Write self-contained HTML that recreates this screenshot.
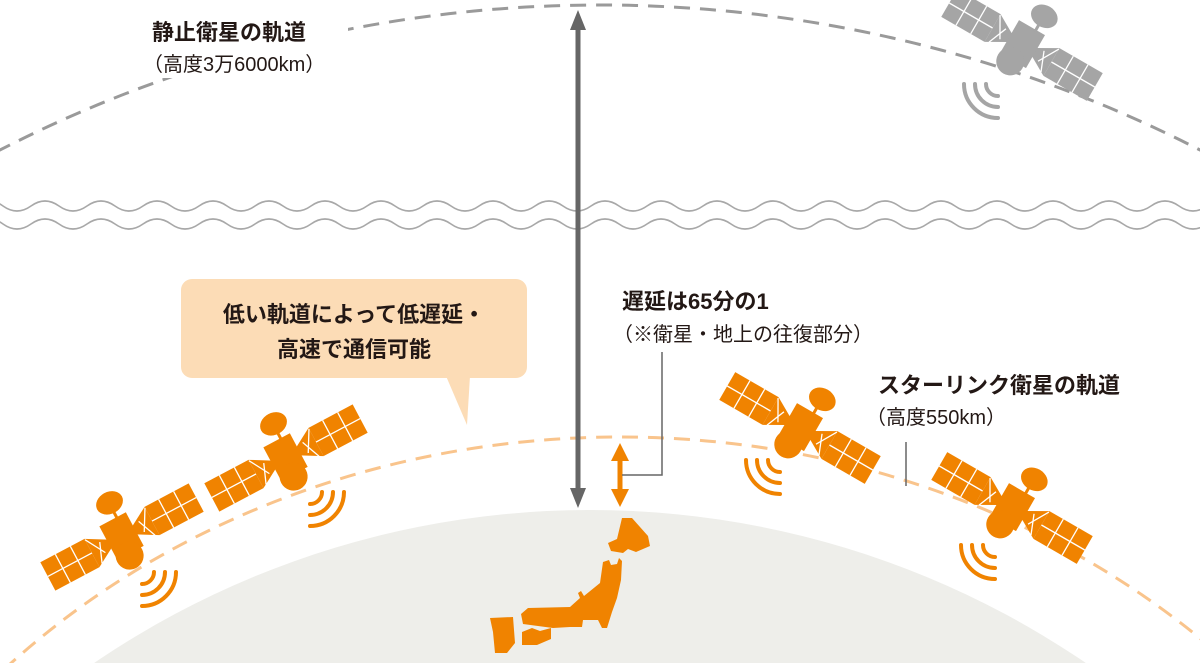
<!DOCTYPE html>
<html><head><meta charset="utf-8"><style>
html,body{margin:0;padding:0;background:#fff;overflow:hidden;}
svg{display:block;}
text{font-family:"Liberation Sans","Noto Sans CJK JP",sans-serif;fill:#231815;}
.b{font-weight:bold;font-size:22px;}
.r{font-size:20px;}
</style></head><body>
<svg width="1200" height="663" viewBox="0 0 1200 663" xmlns="http://www.w3.org/2000/svg">
<defs>
<g id="sat">
  <rect x="-84" y="-16" width="50" height="32"/>
  <rect x="34" y="-16" width="50" height="32"/>
  <path d="M-34 -16 L-13 -4 L-13 4 L-34 16 Z"/>
  <path d="M34 -16 L13 -4 L13 4 L34 16 Z"/>
  <g stroke="#fff" stroke-width="1.3">
    <line x1="-67" y1="-16" x2="-67" y2="16"/><line x1="-50" y1="-16" x2="-50" y2="16"/><line x1="-84" y1="0" x2="-34" y2="0"/>
    <line x1="50" y1="-16" x2="50" y2="16"/><line x1="67" y1="-16" x2="67" y2="16"/><line x1="34" y1="0" x2="84" y2="0"/>
    <line x1="-34" y1="-15" x2="-22" y2="6"/><line x1="-30" y1="14" x2="-22" y2="-6"/>
    <line x1="34" y1="-15" x2="22" y2="6"/><line x1="30" y1="14" x2="22" y2="-6"/>
  </g>
  <rect x="-15" y="-20" width="30" height="38"/>
  <rect x="3" y="-30" width="3" height="12"/>
  <ellipse cx="5" cy="-36" rx="14" ry="11"/>
  <circle cx="-2" cy="20" r="14"/>
</g>
<g id="wavesR" fill="none" stroke-width="4" stroke-linecap="round">
  <path d="M12 0 A12 12 0 0 1 0 12"/>
  <path d="M23 0 A23 23 0 0 1 0 23"/>
  <path d="M34 0 A34 34 0 0 1 0 34"/>
</g>
<g id="wavesL" fill="none" stroke-width="4" stroke-linecap="round">
  <path d="M-12 0 A12 12 0 0 0 0 12"/>
  <path d="M-23 0 A23 23 0 0 0 0 23"/>
  <path d="M-34 0 A34 34 0 0 0 0 34"/>
</g>
</defs>

<circle cx="590" cy="1390" r="880" fill="#eeeeea"/>

<circle cx="600" cy="1319" r="1314" fill="none" stroke="#9a9a9a" stroke-width="3" stroke-dasharray="16 10"/>
<ellipse cx="620" cy="1200" rx="857" ry="763" fill="none" stroke="#f9c48c" stroke-width="3" stroke-dasharray="16 10"/>

<g fill="none" stroke="#a8a8a8" stroke-width="1.6">
<path d="M-25 206 q14 -10 28 0 t28 0 t28 0 t28 0 t28 0 t28 0 t28 0 t28 0 t28 0 t28 0 t28 0 t28 0 t28 0 t28 0 t28 0 t28 0 t28 0 t28 0 t28 0 t28 0 t28 0 t28 0 t28 0 t28 0 t28 0 t28 0 t28 0 t28 0 t28 0 t28 0 t28 0 t28 0 t28 0 t28 0 t28 0 t28 0 t28 0 t28 0 t28 0 t28 0 t28 0 t28 0 t28 0 t28 0 t28 0"/>
<path d="M-25 224 q14 -10 28 0 t28 0 t28 0 t28 0 t28 0 t28 0 t28 0 t28 0 t28 0 t28 0 t28 0 t28 0 t28 0 t28 0 t28 0 t28 0 t28 0 t28 0 t28 0 t28 0 t28 0 t28 0 t28 0 t28 0 t28 0 t28 0 t28 0 t28 0 t28 0 t28 0 t28 0 t28 0 t28 0 t28 0 t28 0 t28 0 t28 0 t28 0 t28 0 t28 0 t28 0 t28 0 t28 0 t28 0 t28 0"/>
</g>

<rect x="148" y="18" width="200" height="60" fill="#fff"/>

<line x1="578" y1="28" x2="578" y2="490" stroke="#666" stroke-width="5"/>
<path d="M578 10 L570 30 L586 30 Z" fill="#666"/>
<path d="M578 508 L570 488 L586 488 Z" fill="#666"/>

<line x1="620" y1="458" x2="620" y2="492" stroke="#f08300" stroke-width="5"/>
<path d="M620 443 L611 461 L629 461 Z" fill="#f08300"/>
<path d="M620 507 L611 489 L629 489 Z" fill="#f08300"/>

<path d="M662 352 L662 475 L622 475" fill="none" stroke="#666" stroke-width="1.5"/>
<line x1="906" y1="442" x2="906" y2="486" stroke="#666" stroke-width="1.5"/>

<g fill="#f08300">
<path d="M622 518 L632 518 L648 536 L650 546 L636 552 L628 549 L623 553 L611 551 L608 543 L617 539 Z"/>
<path d="M603 562 L609 560 L611 565 L617 564 L619 558 L622 561 L621 580 L617 598 L612 612 L607 628 L602 628 L598 620 L583 620 L582 627 L570 627 L553 628 L523 624 L521 614 L528 608 L570 607 L580 598 L578 593 L581 591 L584 596 L600 583 Z"/>
<path d="M522 632 L532 628 L540 631 L551 628 L551 639 L537 645 L522 645 Z"/>
<path d="M490 618 L513 617 L515 643 L507 653 L495 653 L493 632 Z"/>
</g>

<g fill="#f08300">
  <use href="#sat" transform="translate(122,537) rotate(-28)"/>
  <use href="#sat" transform="translate(286,458) rotate(-28)"/>
  <use href="#sat" transform="translate(800,428) rotate(30)"/>
  <use href="#sat" transform="translate(1012,508) rotate(30)"/>
</g>
<g fill="#a5a5a5">
  <use href="#sat" transform="translate(1022,45) rotate(30)"/>
</g>
<g stroke="#f08300">
  <use href="#wavesR" transform="translate(142,572)"/>
  <use href="#wavesR" transform="translate(310,492)"/>
  <use href="#wavesL" transform="translate(780,460)"/>
  <use href="#wavesL" transform="translate(995,545)"/>
</g>
<g stroke="#a5a5a5">
  <use href="#wavesL" transform="translate(998,84)"/>
</g>

<rect x="181" y="279" width="346" height="99" rx="11" fill="#fcdcb6"/>
<path d="M446 376 L470 376 L467 425 Z" fill="#fcdcb6"/>
<text class="b" x="354" y="322" text-anchor="middle">低い軌道によって低遅延・</text>
<text class="b" x="354" y="357" text-anchor="middle">高速で通信可能</text>

<text class="b" x="152" y="40">静止衛星の軌道</text>
<text class="r" x="143" y="71">（高度3万6000km）</text>

<text class="b" x="622" y="309">遅延は65分の1</text>
<text class="r" x="613" y="341">（※衛星・地上の往復部分）</text>

<text class="b" x="878" y="393">スターリンク衛星の軌道</text>
<text class="r" x="866" y="424">（高度550km）</text>
</svg>
</body></html>
